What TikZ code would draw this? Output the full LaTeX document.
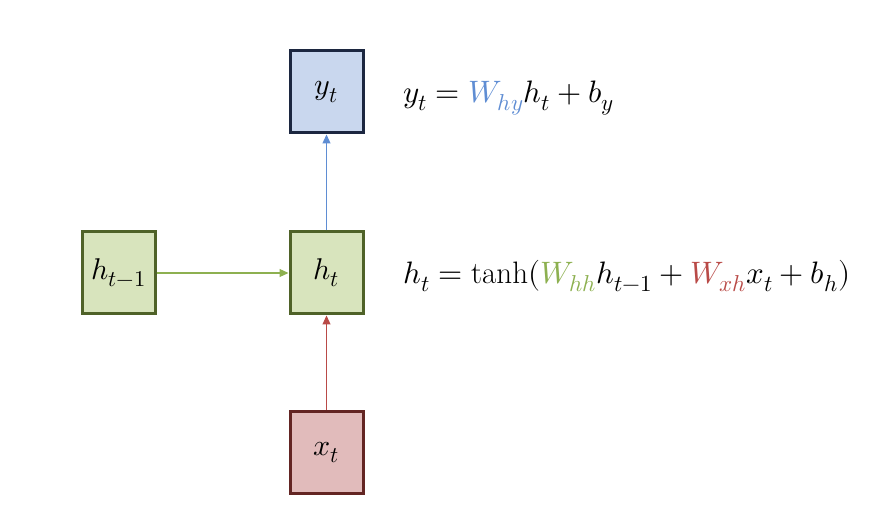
\documentclass[tikz,border=0pt]{standalone}
\usepackage{unicode-math}
\setmathfont{Latin Modern Math}
\DeclareMathSizes{31}{31}{23}{17}
\DeclareMathSizes{30}{30}{22.5}{16.5}
\usetikzlibrary{arrows.meta}
\definecolor{yfill}{HTML}{C9D7EE}
\definecolor{ydraw}{HTML}{1C2740}
\definecolor{hfill}{HTML}{D8E4BD}
\definecolor{hdraw}{HTML}{4F6228}
\definecolor{xfill}{HTML}{E1BBBB}
\definecolor{xdraw}{HTML}{632523}
\definecolor{blueline}{HTML}{5F8DD3}
\definecolor{greenline}{HTML}{8DB050}
\definecolor{redline}{HTML}{B94A47}
\tikzset{
  box/.style={draw, line width=3pt, minimum width=73pt, minimum height=82pt, inner sep=0pt, font=\fontsize{30}{34}\selectfont},
  conn/.style={line width=1.2pt, -{Triangle[length=9pt,width=8pt]}},
  eq/.style={anchor=west, inner sep=0pt, font=\fontsize{31}{36}\selectfont}
}
\begin{document}
\begin{tikzpicture}[x=1pt,y=1pt]
\useasboundingbox (0,0) rectangle (890,526);
\node[box, fill=yfill, draw=ydraw] (y) at (326.5,434) {\raisebox{-4pt}{$y_t$}};
\node[box, fill=hfill, draw=hdraw] (h) at (326.5,253) {\raisebox{-2pt}{$h_t$}};
\node[box, fill=hfill, draw=hdraw] (hp) at (118.5,253) {\raisebox{-2pt}{$h_{t-1}$}};
\node[box, fill=xfill, draw=xdraw] (x) at (326.5,73.5) {\raisebox{-4pt}{$x_t$}};
\draw[conn, blueline] (h) -- (y);
\draw[conn, greenline] (hp) -- (h);
\draw[conn, redline] (x) -- (h);
\node[eq] (e1) at (403,428) {$y_t = {\color{blueline}W_{hy}} h_t + b_y$};
\node[eq] (e2) at (403,250) {$h_t = \tanh({\color{greenline}W_{hh}} h_{t-1} + {\color{redline}W_{xh}} x_t + b_h)$};
\end{tikzpicture}
\end{document}
